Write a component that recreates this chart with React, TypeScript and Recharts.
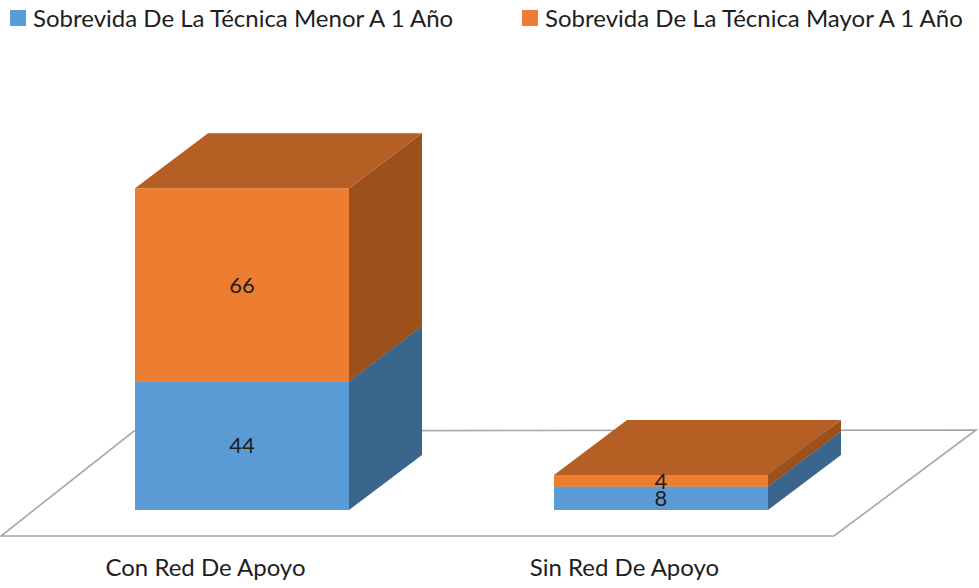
import React from 'react'
import { BarChart, Bar, XAxis, YAxis, LabelList } from 'recharts'

const categories = ['Con Red De Apoyo', 'Sin Red De Apoyo']
const seriesNames = ['Sobrevida De La Técnica Menor A 1 Año', 'Sobrevida De La Técnica Mayor A 1 Año']
const menorUnAno = [44, 8]
const mayorUnAno = [66, 4]

const data = categories.map((name, i) => ({ name, menor: menorUnAno[i], mayor: mayorUnAno[i] }))

const FONT = 'Lato, "Noto Sans", sans-serif'
const TEXT = '#1e1e1e'

// depth offset of the fake 3D boxes
const DX = 73
const DY = -55

const BLUE = { face: '#5B9BD5', side: '#3A658D', top: '#4A80B3' }
const ORANGE = { face: '#ED7D31', side: '#9C511D', top: '#B65F24' }

const Box3D = (props: any) => {
    const { x, y, width, height, colors } = props
    if (!height || height <= 0) return null
    const r = x + width
    const b = y + height
    return (
        <g>
            <rect x={x} y={y} width={width} height={height} fill={colors.face} />
            <polygon
                points={`${r},${y} ${r + DX},${y + DY} ${r + DX},${b + DY} ${r},${b}`}
                fill={colors.side}
            />
            <polygon
                points={`${x},${y} ${x + DX},${y + DY} ${r + DX},${y + DY} ${r},${y}`}
                fill={colors.top}
            />
        </g>
    )
}

const CategoryTick = (props: any) => {
    const { x, y, payload } = props
    // labels sit on the front edge of the floor, half a depth left of the bars
    return (
        <text x={x - 36} y={y + 58} textAnchor="middle" fontSize={24} fontFamily={FONT} fill={TEXT}>
            {payload.value}
        </text>
    )
}

const Legend2 = () => {
    const colors = [BLUE.face, ORANGE.face]
    const lefts = [10, 522]
    return (
        <div style={{ position: 'absolute', left: 0, top: 0, width: 979, height: 40 }}>
            {seriesNames.map((n, i) => (
                <div
                    key={n}
                    style={{
                        position: 'absolute', left: lefts[i], top: 4, display: 'flex', alignItems: 'center',
                        fontFamily: FONT, fontSize: 24, color: TEXT, whiteSpace: 'nowrap', lineHeight: '28px'
                    }}
                >
                    <span style={{ width: 16, height: 16, background: colors[i], display: 'inline-block', marginRight: 7 }} />
                    {n}
                </div>
            ))}
        </div>
    )
}

export default function App() {
    return (
        <div style={{ position: 'absolute', left: 0, top: 0, width: 979, height: 588, background: '#fff', overflow: 'hidden' }}>
            <svg width={979} height={588} style={{ position: 'absolute', left: 0, top: 0 }}>
                <polygon points="1,536 834,536 976,430 134,431" fill="none" stroke="#A6A6A6" strokeWidth={1.6} />
            </svg>
            <div style={{ position: 'absolute', left: 0, top: 0 }}>
                <BarChart width={979} height={588} data={data} margin={{ top: 159, right: 109, bottom: 48, left: 32 }}>
                    <XAxis dataKey="name" axisLine={false} tickLine={false} height={30} tick={<CategoryTick />} interval={0} />
                    <YAxis hide domain={[0, 120]} />
                    <Bar dataKey="menor" stackId="a" barSize={214} isAnimationActive={false}
                        shape={(p: any) => <Box3D {...p} colors={BLUE} />}>
                        <LabelList dataKey="menor" position="center" fontSize={22} fontFamily={FONT} fill={TEXT} />
                    </Bar>
                    <Bar dataKey="mayor" stackId="a" barSize={214} isAnimationActive={false}
                        shape={(p: any) => <Box3D {...p} colors={ORANGE} />}>
                        <LabelList dataKey="mayor" position="center" fontSize={22} fontFamily={FONT} fill={TEXT} />
                    </Bar>
                </BarChart>
            </div>
            <Legend2 />
        </div>
    )
}
